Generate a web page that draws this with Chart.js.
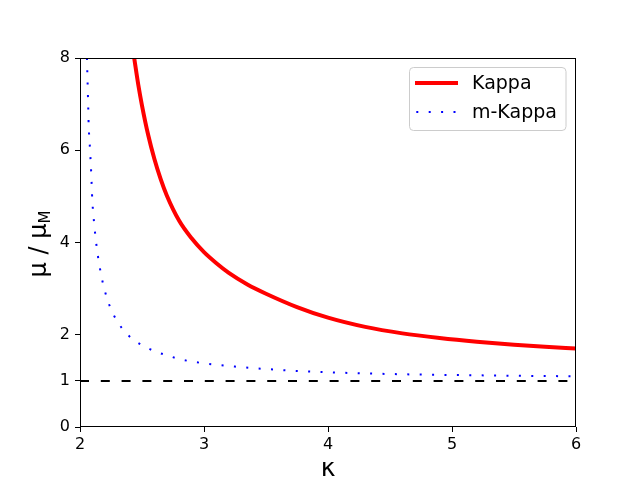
<!DOCTYPE html>
<html>
<head>
<meta charset="utf-8">
<script src="https://cdn.jsdelivr.net/npm/chart.js@4.4.1/dist/chart.umd.min.js"></script>
<style>
html,body{margin:0;padding:0;background:#fff;}
#wrap{width:640px;height:480px;}
</style>
</head>
<body>
<div id="wrap"><canvas id="c" width="640" height="480"></canvas></div>
<script>
// ---- data ----
const kappaX  = [2.437, 2.47, 2.50, 2.55, 2.60, 2.65, 2.70, 2.80, 2.90, 3.0, 3.1, 3.2, 3.35, 3.5, 3.75, 4.0, 4.3, 4.6, 4.9, 5.2, 5.5, 5.75, 6.0];
const kappaY  = [8.0, 7.42, 6.97, 6.33, 5.81, 5.38, 5.02, 4.47, 4.09, 3.79, 3.55, 3.34, 3.09, 2.89, 2.60, 2.37, 2.17, 2.03, 1.93, 1.85, 1.785, 1.74, 1.70];
const mKappaX = [2.056, 2.065, 2.070, 2.081, 2.091, 2.099, 2.115, 2.137, 2.169, 2.191, 2.218, 2.252, 2.301, 2.360, 2.433, 2.519, 2.613, 2.707, 2.804, 2.903, 3.0, 3.1, 3.25, 3.5, 3.75, 4.0, 4.5, 5.0, 5.5, 6.0];
const mKappaY = [8.0, 7.09, 6.55, 6.01, 5.47, 4.93, 4.39, 3.85, 3.32, 3.05, 2.79, 2.54, 2.29, 2.07, 1.89, 1.75, 1.63, 1.55, 1.47, 1.42, 1.38, 1.35, 1.31, 1.257, 1.215, 1.186, 1.149, 1.127, 1.112, 1.099];
const refX = [2, 6];
const refY = [1, 1];
const xTicks = [2, 3, 4, 5, 6];
const yTicks = [0, 1, 2, 4, 6, 8];
const seriesNames = ["Kappa", "m-Kappa"];
const xLabel = "κ";
const yLabelMain = "μ / μ";
const yLabelSub = "M";

const pts = (xs, ys) => xs.map((x, i) => ({x: x, y: ys[i]}));
const FONT = "'DejaVu Sans', sans-serif";
const RED = "#ff0000";
const BLUE = "#0000ff";

const decor = {
  id: 'decor',
  afterDraw(chart) {
    const ctx = chart.ctx;
    const a = chart.chartArea;
    ctx.save();
    // frame
    ctx.strokeStyle = '#000';
    ctx.lineWidth = 1;
    ctx.setLineDash([]);
    ctx.strokeRect(Math.round(a.left) + 0.5, Math.round(a.top) + 0.5, Math.round(a.right - a.left) - 1, Math.round(a.bottom - a.top) - 1);
    // x label
    ctx.fillStyle = '#000';
    ctx.font = "25px " + FONT;
    ctx.textAlign = 'center';
    ctx.textBaseline = 'alphabetic';
    ctx.fillText(xLabel, (a.left + a.right) / 2, 476);
    // y label
    ctx.save();
    ctx.translate(46, 244);
    ctx.rotate(-Math.PI / 2);
    ctx.font = "24px " + FONT;
    const w1 = ctx.measureText(yLabelMain).width;
    ctx.font = "15px " + FONT;
    const w2 = ctx.measureText(yLabelSub).width;
    const start = -(w1 + w2) / 2;
    ctx.textAlign = 'left';
    ctx.font = "24px " + FONT;
    ctx.fillText(yLabelMain, start, 0);
    ctx.font = "15px " + FONT;
    ctx.fillText(yLabelSub, start + w1, 4);
    ctx.restore();
    // legend
    const bx = 409.5, by = 67.5, bw = 156.5, bh = 63;
    ctx.beginPath();
    ctx.roundRect(bx, by, bw, bh, 4);
    ctx.fillStyle = 'rgba(255,255,255,0.8)';
    ctx.fill();
    ctx.strokeStyle = '#cccccc';
    ctx.lineWidth = 1;
    ctx.stroke();
    ctx.lineCap = 'butt';
    ctx.beginPath();
    ctx.strokeStyle = RED;
    ctx.lineWidth = 4;
    ctx.moveTo(415, 83); ctx.lineTo(458, 83);
    ctx.stroke();
    ctx.beginPath();
    ctx.strokeStyle = BLUE;
    ctx.lineWidth = 2;
    ctx.setLineDash([2, 10.4]);
    ctx.moveTo(416.3, 112); ctx.lineTo(458, 112);
    ctx.stroke();
    ctx.setLineDash([]);
    ctx.fillStyle = '#000';
    ctx.font = "19px " + FONT;
    ctx.textAlign = 'left';
    ctx.textBaseline = 'middle';
    ctx.fillText(seriesNames[0], 472, 84);
    ctx.fillText(seriesNames[1], 472, 113);
    ctx.restore();
  }
};

new Chart(document.getElementById('c'), {
  type: 'line',
  data: {
    datasets: [
      {label: seriesNames[0], data: pts(kappaX, kappaY), borderColor: RED, borderWidth: 4, pointRadius: 0, cubicInterpolationMode: 'monotone', fill: false},
      {label: seriesNames[1], data: pts(mKappaX, mKappaY), borderColor: BLUE, borderWidth: 2, borderDash: [2, 10.4], pointRadius: 0, cubicInterpolationMode: 'monotone', fill: false},
      {label: 'ref', data: pts(refX, refY), borderColor: '#000', borderWidth: 2, borderDash: [9, 11.8], pointRadius: 0, fill: false}
    ]
  },
  options: {
    responsive: false,
    animation: false,
    devicePixelRatio: 1,
    layout: {padding: {left: 0, right: 64, top: 58, bottom: 0}},
    plugins: {legend: {display: false}, tooltip: {enabled: false}},
    scales: {
      x: {
        type: 'linear', min: 2, max: 6,
        afterBuildTicks: (s) => { s.ticks = xTicks.map(v => ({value: v})); },
        afterFit: (s) => { s.height = 53; },
        grid: {drawOnChartArea: false, tickLength: 5, color: '#000', tickWidth: 1},
        border: {display: false},
        ticks: {color: '#000', font: {family: FONT, size: 16}, padding: 3, maxRotation: 0}
      },
      y: {
        type: 'linear', min: 0, max: 8,
        afterBuildTicks: (s) => { s.ticks = yTicks.map(v => ({value: v})); },
        afterFit: (s) => { s.width = 80; },
        grid: {drawOnChartArea: false, tickLength: 5, color: '#000', tickWidth: 1},
        border: {display: false},
        ticks: {color: '#000', font: {family: FONT, size: 16}, padding: 5}
      }
    }
  },
  plugins: [decor]
});
</script>
</body>
</html>
